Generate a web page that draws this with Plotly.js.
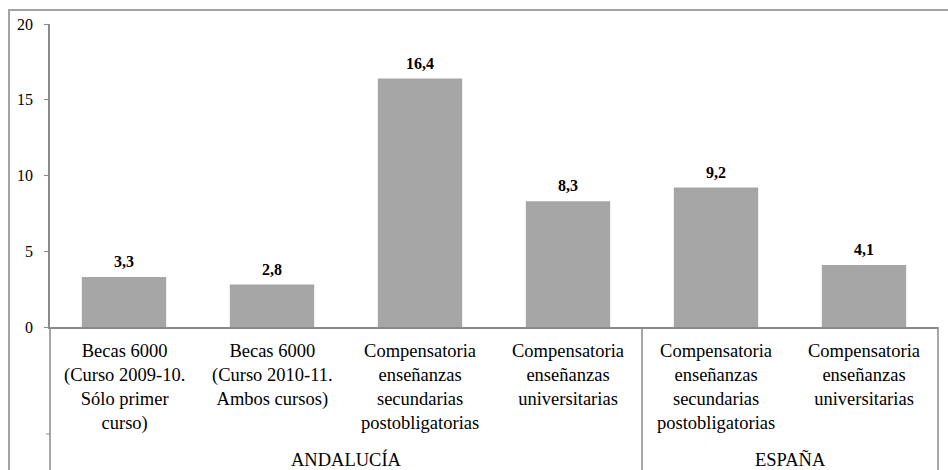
<!DOCTYPE html>
<html>
<head>
<meta charset="utf-8">
<script src="https://cdn.plot.ly/plotly-3.0.1.min.js"></script>
<style>
  html, body { margin: 0; padding: 0; background: #fff; }
  #chart { width: 948px; height: 470px; }
  #chart svg text { font-family: 'Liberation Serif', serif !important; }
</style>
</head>
<body>
<div id="chart"></div>
<script>
// Beneficiarios de ayudas (%) por programa
const categoryLabels = [
  'Becas 6000<br>(Curso 2009-10.<br>Sólo primer<br>curso)',
  'Becas 6000<br>(Curso 2010-11.<br>Ambos cursos)',
  'Compensatoria<br>enseñanzas<br>secundarias<br>postobligatorias',
  'Compensatoria<br>enseñanzas<br>universitarias',
  'Compensatoria<br>enseñanzas<br>secundarias<br>postobligatorias',
  'Compensatoria<br>enseñanzas<br>universitarias'
];
const groups = ['ANDALUCÍA', 'ANDALUCÍA', 'ANDALUCÍA', 'ANDALUCÍA', 'ESPAÑA', 'ESPAÑA'];
const values = [3.3, 2.8, 16.4, 8.3, 9.2, 4.1];
const yTicks = [0, 5, 10, 15, 20];

const FONT = 'Liberation Serif';
const AXIS_GREY = '#8a8a8a';
const positions = values.map((_, i) => i);

const bars = {
  type: 'bar',
  x: positions,
  y: values,
  marker: { color: '#a6a6a6', line: { width: 0 } },
  hoverinfo: 'skip'
};

const annotations = [];

// value labels above each bar
values.forEach((v, i) => {
  annotations.push({
    x: i, y: v, xref: 'x', yref: 'y',
    text: '<b>' + v.toFixed(1).replace('.', ',') + '</b>',
    showarrow: false, yanchor: 'bottom', yshift: 5,
    font: { family: FONT, size: 16, color: '#000' }
  });
});

// first level category labels
categoryLabels.forEach((t, i) => {
  annotations.push({
    x: i, y: 0, xref: 'x', yref: 'paper',
    text: t, showarrow: false, yanchor: 'top', yshift: -12,
    font: { family: FONT, size: 18.5, color: '#000' }
  });
});

// second level group labels and separators
const shapes = [];
const groupNames = [...new Set(groups)];
groupNames.forEach(g => {
  const idx = positions.filter(i => groups[i] === g);
  const mid = (idx[0] + idx[idx.length - 1]) / 2;
  annotations.push({
    x: mid, y: 0, xref: 'x', yref: 'paper',
    text: g, showarrow: false, yanchor: 'middle', yshift: -132,
    font: { family: FONT, size: 18.5, color: '#000' }
  });
});
for (let i = 1; i < groups.length; i++) {
  if (groups[i] !== groups[i - 1]) {
    shapes.push({
      type: 'line', xref: 'x', yref: 'paper',
      x0: i - 0.5, x1: i - 0.5, y0: 0, y1: -0.6,
      line: { color: AXIS_GREY, width: 1.5 }
    });
  }
}
// axis extensions through the label area
shapes.push({
  type: 'line', xref: 'paper', yref: 'paper',
  x0: 0, x1: 0, y0: 0, y1: -0.6,
  line: { color: AXIS_GREY, width: 1.5 }
});
shapes.push({
  type: 'line', xref: 'paper', yref: 'paper',
  x0: 1, x1: 1, y0: 0, y1: -0.6,
  line: { color: AXIS_GREY, width: 1.5 }
});
// level divider tick on the left edge
shapes.push({
  type: 'line', xref: 'paper', yref: 'paper',
  x0: -0.0045, x1: 0, y0: -107 / 303, y1: -107 / 303,
  line: { color: AXIS_GREY, width: 1 }
});
// chart frame
shapes.push({
  type: 'rect', xref: 'paper', yref: 'paper',
  x0: -41 / 888, x1: 1.2, y0: 317 / 303, y1: -1,
  line: { color: '#a3a3a3', width: 2 }
});

const layout = {
  width: 948, height: 470,
  margin: { l: 50, r: 10, t: 24, b: 143 },
  paper_bgcolor: '#fff', plot_bgcolor: '#fff',
  showlegend: false,
  bargap: 0.43,
  font: { family: FONT, size: 16, color: '#000' },
  xaxis: {
    type: 'linear', range: [-0.5, 5.5],
    showticklabels: false, ticks: '', showgrid: false, zeroline: false,
    showline: true, linecolor: AXIS_GREY, linewidth: 1.5, fixedrange: true
  },
  yaxis: {
    range: [0, 20], tickvals: yTicks, ticktext: yTicks.map(String),
    ticks: 'outside', ticklen: 4, tickcolor: AXIS_GREY, tickwidth: 1,
    showgrid: false, zeroline: false,
    showline: true, linecolor: AXIS_GREY, linewidth: 1.5,
    ticklabelstandoff: 8,
    tickfont: { family: FONT, size: 16, color: '#000' }, fixedrange: true
  },
  annotations: annotations,
  shapes: shapes
};

Plotly.newPlot('chart', [bars], layout, { displayModeBar: false });
</script>
</body>
</html>
